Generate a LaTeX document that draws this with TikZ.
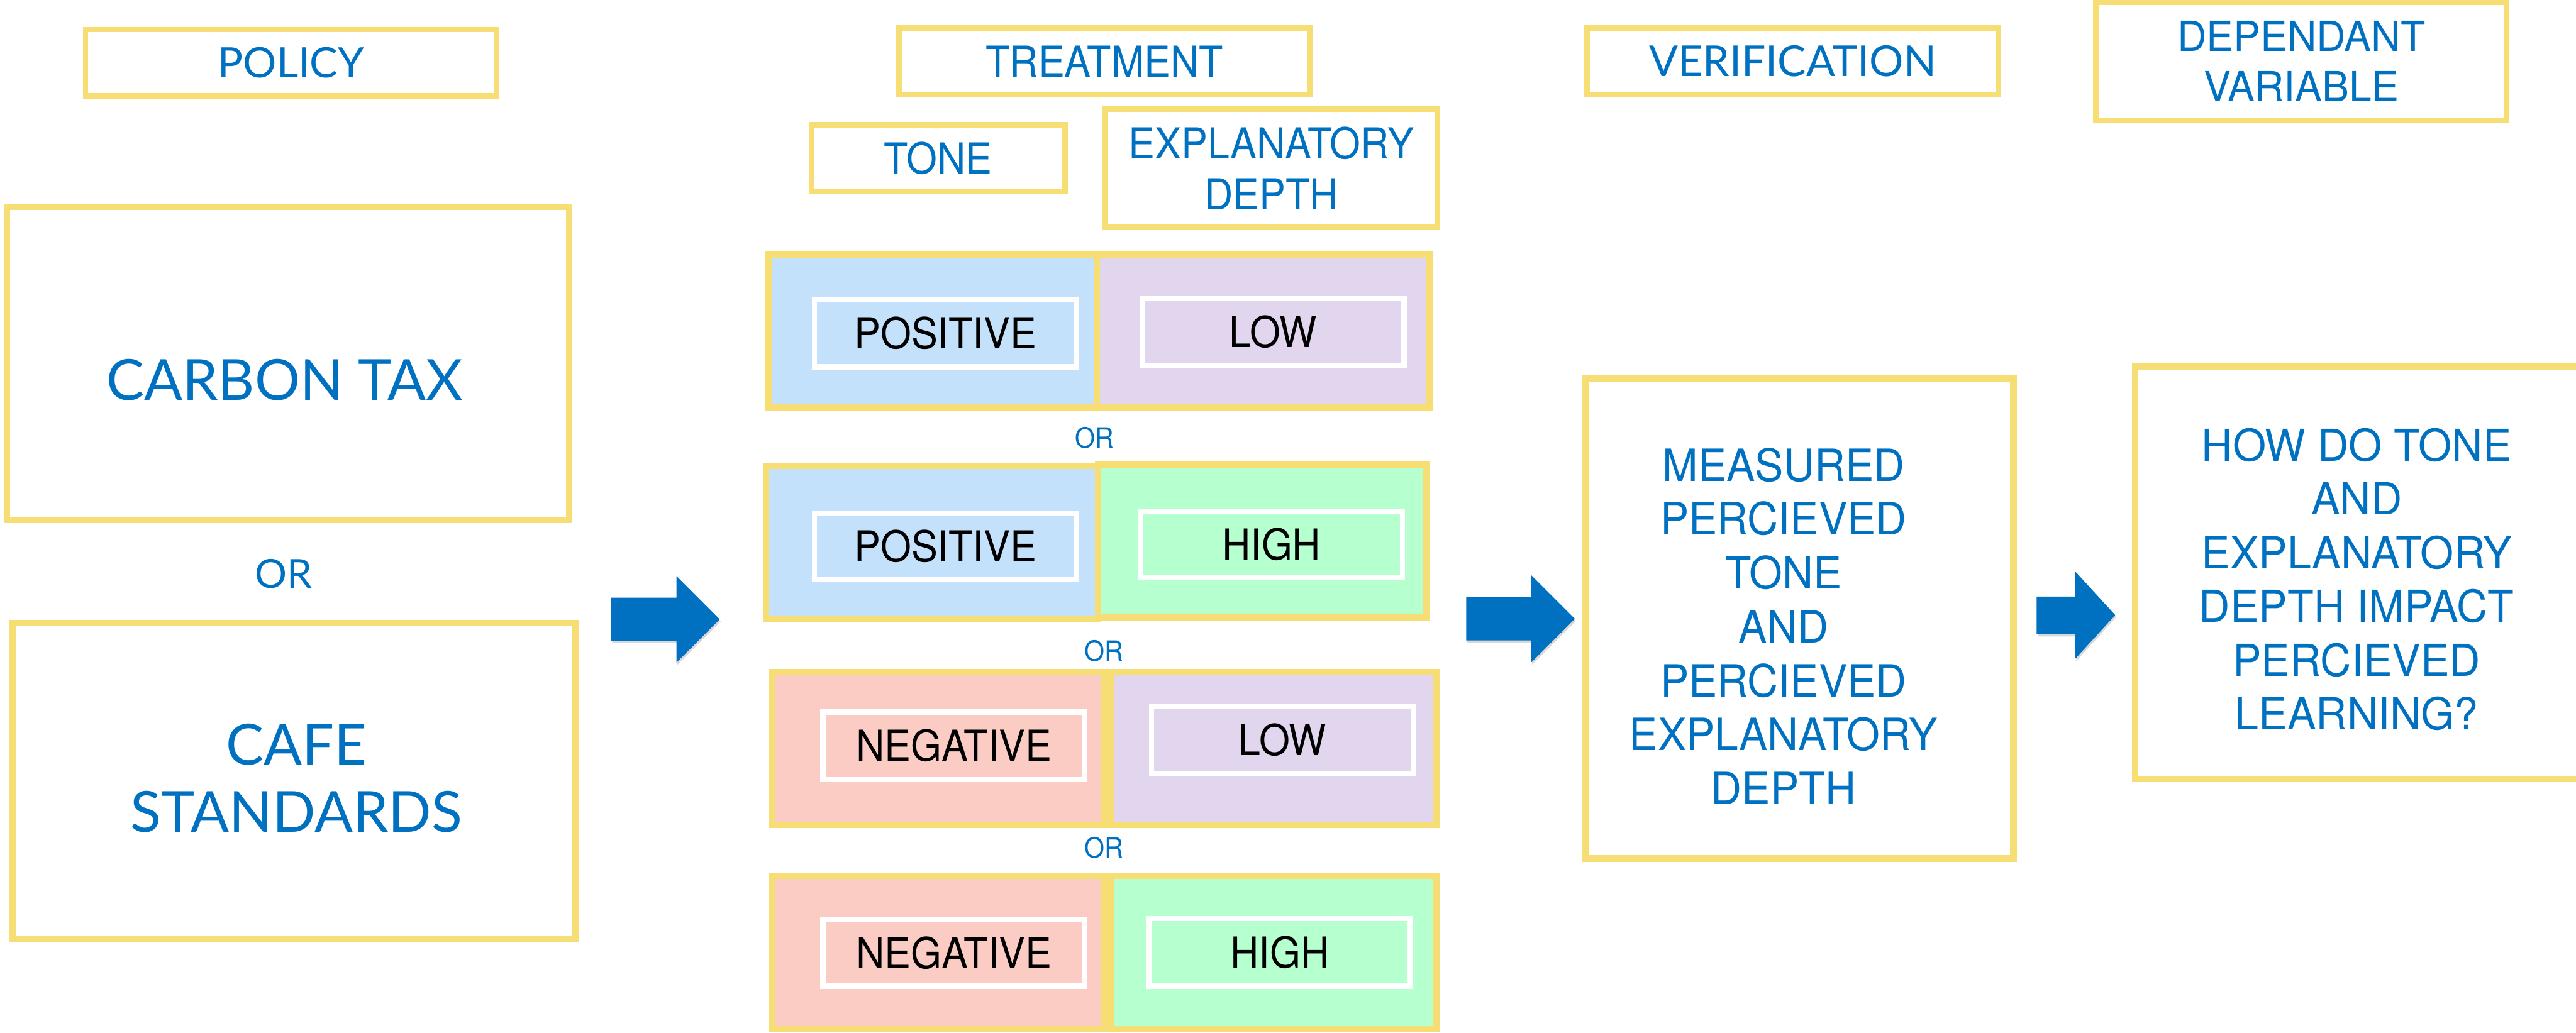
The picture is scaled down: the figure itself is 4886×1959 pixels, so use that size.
\documentclass[tikz,border=0pt]{standalone}
\usepackage{fontspec}
\setmainfont{TeX Gyre Heros}
\newfontfamily\avn{Lato}
\newfontfamily\hvN[FakeStretch=0.925]{TeX Gyre Heros}
\newfontfamily\hvM[FakeStretch=0.96]{TeX Gyre Heros}
\newfontfamily\hvW[FakeStretch=0.975]{TeX Gyre Heros}
\usetikzlibrary{shadows}
\definecolor{ybord}{HTML}{F6DE75}
\definecolor{tblue}{HTML}{0070C0}
\definecolor{cblue}{HTML}{C4E1FB}
\definecolor{cpurple}{HTML}{E2D5EE}
\definecolor{cgreen}{HTML}{B6FFCE}
\definecolor{cpink}{HTML}{FBCCC3}
\begin{document}
\begin{tikzpicture}[x=1pt,y=-1pt,
  ybox/.style={draw=ybord, line width=10pt, rectangle, inner sep=0pt, text=tblue, align=center},
  bigbox/.style={draw=ybord, line width=12pt, rectangle, inner sep=0pt},
  cell/.style={draw=ybord, line width=12pt, rectangle, inner sep=0pt},
  wbox/.style={draw=white, line width=10pt, rectangle, inner sep=0pt, text=black,
    font={\hvN\fontsize{81pt}{97pt}\selectfont}},
  txt/.style={inner sep=0pt, text=tblue, align=center},
  ortxt/.style={inner sep=0pt, text=tblue, font={\hvN\fontsize{53pt}{60pt}\selectfont}},
  barrow/.style={fill=tblue, drop shadow={opacity=0.3, shadow xshift=2pt, shadow yshift=-4pt}}
]
\useasboundingbox (0,0) rectangle (4886,1959);
\fill[white] (0,0) rectangle (4886,1959);

% ---- header boxes
\node[ybox, minimum width=780pt, minimum height=126pt, font={\avn\fontsize{79.5pt}{95pt}\selectfont}] (policy) at (552,119) {POLICY};
\node[ybox, minimum width=780pt, minimum height=127pt, font={\hvN\fontsize{81pt}{97pt}\selectfont}] (treat) at (2095,116.5) {TREATMENT};
\node[ybox, minimum width=781pt, minimum height=127pt, font={\avn\fontsize{81pt}{97pt}\selectfont}] (verifh) at (3400.5,116.5) {VERIFICATION};
\node[ybox, minimum width=780pt, minimum height=223pt, font={\hvW\fontsize{78.7pt}{95pt}\selectfont}] (dep) at (4365,116.5) {DEPENDANT\\VARIABLE};
\node[ybox, minimum width=481pt, minimum height=127pt, font={\hvN\fontsize{81pt}{97pt}\selectfont}] (tone) at (1779.5,300.5) {TONE};
\node[ybox, minimum width=631pt, minimum height=224pt, font={\hvN\fontsize{81pt}{97pt}\selectfont}] (expl) at (2411.5,319) {EXPLANATORY\\DEPTH};

% ---- policy column
\node[bigbox, minimum width=1067pt, minimum height=593pt] (carbon) at (546.5,689.5) {};
\node[txt, font={\avn\fontsize{107.5pt}{128pt}\selectfont}] (carbontxt) at (539.5,720.5) {CARBON TAX};
\node[txt, font={\avn\fontsize{76pt}{90pt}\selectfont}] (orpol) at (538,1089) {OR};
\node[bigbox, minimum width=1068pt, minimum height=600pt] (cafe) at (558,1482) {};
\node[txt, font={\avn\fontsize{107.5pt}{128pt}\selectfont}] (cafetxt) at (562,1476.4) {CAFE\\STANDARDS};

% ---- treatment rows
\node[cell, fill=cblue,   minimum width=622pt, minimum height=290pt] (r1l) at (1769,628) {};
\node[cell, fill=cpurple, minimum width=631pt, minimum height=290pt] (r1r) at (2395.5,628) {};
\node[wbox, minimum width=496pt, minimum height=127pt] (r1li) at (1793,632.5) {POSITIVE};
\node[wbox, minimum width=497pt, minimum height=127pt] (r1ri) at (2414.5,629.5) {LOW};
\node[ortxt] (or1) at (2075.5,831) {OR};

\node[cell, fill=cblue,  minimum width=630pt, minimum height=289.5pt] (r2l) at (1768,1028.75) {};
\node[cell, fill=cgreen, minimum width=623pt, minimum height=290pt] (r2r) at (2394.5,1026) {};
\node[wbox, minimum width=496pt, minimum height=126.5pt] (r2li) at (1793,1036.75) {POSITIVE};
\node[wbox, minimum width=496.5pt, minimum height=126.5pt] (r2ri) at (2411.75,1033.25) {HIGH};
\node[ortxt] (or2) at (2094,1235) {OR};

\node[cell, fill=cpink,   minimum width=631pt, minimum height=290pt] (r3l) at (1779.5,1420) {};
\node[cell, fill=cpurple, minimum width=618pt, minimum height=290pt] (r3r) at (2416,1420) {};
\node[wbox, minimum width=497pt, minimum height=128pt] (r3li) at (1809.5,1415) {NEGATIVE};
\node[wbox, minimum width=497pt, minimum height=127pt] (r3ri) at (2432.5,1403.5) {LOW};
\node[ortxt] (or3) at (2094,1608) {OR};

\node[cell, fill=cpink,  minimum width=631pt, minimum height=291pt] (r4l) at (1779.5,1807.5) {};
\node[cell, fill=cgreen, minimum width=618pt, minimum height=291pt] (r4r) at (2416,1807.5) {};
\node[wbox, minimum width=497pt, minimum height=127pt] (r4li) at (1809.5,1807.5) {NEGATIVE};
\node[wbox, minimum width=495pt, minimum height=128pt] (r4ri) at (2427.5,1807) {HIGH};

% ---- verification
\node[bigbox, line width=12.5pt, minimum width=811.5pt, minimum height=911pt] (verif) at (3413.25,1173.5) {};
\node[txt, font={\hvM\fontsize{84.4pt}{102.3pt}\selectfont}] (veriftxt) at (3383,1188)
  {MEASURED\\PERCIEVED\\TONE\\AND\\PERCIEVED\\EXPLANATORY\\DEPTH};

% ---- dependent variable
\node[bigbox, minimum width=850.4pt, minimum height=782pt] (dv) at (4474.8,1087) {};
\node[txt, font={\hvW\fontsize{83.6pt}{102pt}\selectfont}] (dvtxt) at (4470,1099)
  {HOW DO TONE\\AND\\EXPLANATORY\\DEPTH IMPACT\\PERCIEVED\\LEARNING?};

% ---- block arrows
\fill[barrow] (1159,1134) -- (1283,1134) -- (1283,1093) -- (1365,1175) -- (1283,1257) -- (1283,1216) -- (1159,1216) -- cycle;
\fill[barrow] (2781,1133) -- (2904,1133) -- (2904,1091) -- (2987,1174) -- (2904,1257) -- (2904,1215) -- (2781,1215) -- cycle;
\fill[barrow] (3863,1132) -- (3936,1132) -- (3936,1084) -- (4012,1167) -- (3936,1250) -- (3936,1203.5) -- (3863,1203.5) -- cycle;
\end{tikzpicture}
\end{document}
